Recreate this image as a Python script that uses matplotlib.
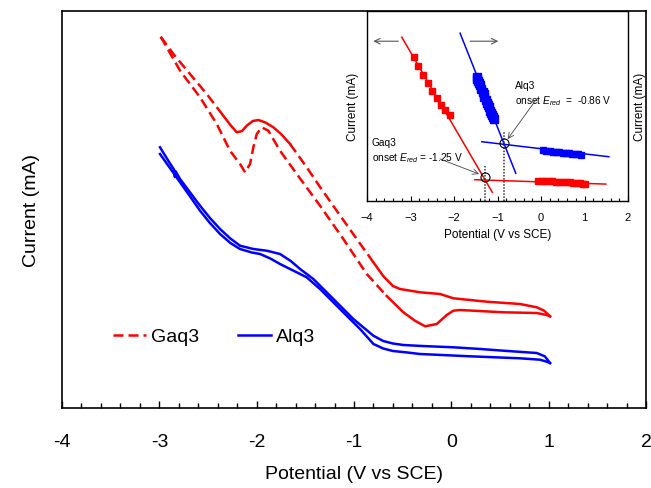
import numpy as np
import matplotlib
matplotlib.use("Agg")
import matplotlib.pyplot as plt
from matplotlib.lines import Line2D
from matplotlib.ticker import MultipleLocator

plt.rcParams['font.family'] = ['Liberation Sans', 'DejaVu Sans']
plt.rcParams['mathtext.fontset'] = 'custom'
plt.rcParams['mathtext.rm'] = 'Liberation Sans'
plt.rcParams['mathtext.it'] = 'Liberation Sans:italic'

# ---------------- main CV data (current in arbitrary mA units) ----------------
gaq3_up_x = [-2.986, -2.856, -2.685, -2.513, -2.343, -2.27, -2.205, -2.15, -2.102, -2.04, -1.983,
             -1.91, -1.829, -1.75, -1.657, -1.486, -1.349, -1.212, -0.972, -0.801, -0.70, -0.60,
             -0.527, -0.322, -0.116, 0.021, 0.364, 0.706, 0.877, 0.95, 0.99, 1.014]
gaq3_up_y = [3.713, 3.54, 3.34, 3.14, 2.923, 2.83, 2.757, 2.77, 2.823, 2.87, 2.88,
             2.855, 2.807, 2.74, 2.64, 2.407, 2.21, 2.02, 1.69, 1.457, 1.32, 1.22,
             1.19, 1.157, 1.14, 1.097, 1.063, 1.04, 1.007, 0.975, 0.94, 0.917]

gaq3_lo_x = [-2.986, -2.787, -2.582, -2.41, -2.274, -2.171, -2.119, -2.068, -2.034, -1.999, -1.948,
             -1.880, -1.760, -1.588, -1.349, -1.110, -0.869, -0.664, -0.493, -0.374, -0.27, -0.15,
             -0.047, 0.021, 0.09, 0.534, 0.877, 0.98, 1.014]
gaq3_lo_y = [3.713, 3.373, 3.107, 2.84, 2.573, 2.44, 2.357, 2.44, 2.607, 2.74, 2.807,
             2.773, 2.573, 2.34, 2.023, 1.69, 1.34, 1.12, 0.957, 0.873, 0.817, 0.84,
             0.93, 0.973, 0.98, 0.957, 0.95, 0.93, 0.917]

alq3_up_x = [-2.993, -2.90, -2.85, -2.84, -2.835, -2.787, -2.68, -2.582, -2.48, -2.376, -2.273,
             -2.171, -2.034, -1.897, -1.760, -1.65, -1.554, -1.418, -1.212, -1.007, -0.801, -0.70,
             -0.60, -0.493, -0.30, 0.021, 0.30, 0.534, 0.877, 0.96, 1.014]
alq3_up_y = [2.607, 2.46, 2.385, 2.31, 2.37, 2.29, 2.15, 2.023, 1.90, 1.79, 1.697,
             1.623, 1.59, 1.573, 1.54, 1.47, 1.39, 1.29, 1.09, 0.89, 0.723, 0.67,
             0.645, 0.63, 0.62, 0.607, 0.59, 0.573, 0.55, 0.517, 0.45]

alq3_lo_x = [-2.993, -2.787, -2.68, -2.582, -2.48, -2.376, -2.27, -2.171, -2.05, -1.965, -1.860,
             -1.760, -1.554, -1.486, -1.349, -1.144, -0.938, -0.80, -0.70, -0.60, -0.45, -0.322,
             0.192, 0.706, 0.911, 0.98, 1.014]
alq3_lo_y = [2.54, 2.257, 2.11, 1.973, 1.85, 1.74, 1.65, 1.59, 1.555, 1.54, 1.495,
             1.44, 1.34, 1.307, 1.19, 0.99, 0.79, 0.64, 0.595, 0.57, 0.555, 0.54,
             0.517, 0.497, 0.483, 0.463, 0.45]

labels = ["Gaq3", "Alq3"]
xticks_main = [-4, -3, -2, -1, 0, 1, 2]

# ---------------- inset (onset determination) data ----------------
gaq3_fit1_x = [-3.2, -1.12]
gaq3_fit1_y = [8.62, 0.46]
gaq3_fit2_x = [-1.52, 1.49]
gaq3_fit2_y = [1.12, 0.89]
gaq3_pts1_x = [-2.913, -2.821, -2.706, -2.605, -2.499, -2.398, -2.299, -2.207, -2.092]
gaq3_pts1_y = [7.56, 7.12, 6.65, 6.19, 5.77, 5.41, 5.07, 4.79, 4.54]
gaq3_pts2_x = [-0.06, 0.02, 0.10, 0.18, 0.26, 0.34, 0.42, 0.50, 0.58, 0.66, 0.74, 0.82, 0.90, 0.96, 1.01]
gaq3_pts2_y = [1.07, 1.06, 1.05, 1.04, 1.03, 1.02, 1.01, 1.00, 0.99, 0.98, 0.96, 0.95, 0.93, 0.91, 0.89]

alq3_fit1_x = [-1.86, -0.58]
alq3_fit1_y = [8.83, 1.46]
alq3_fit2_x = [-1.36, 1.56]
alq3_fit2_y = [3.12, 2.33]
alq3_pts1_x = [-1.48, -1.46, -1.44, -1.42, -1.40, -1.37, -1.34, -1.32, -1.30, -1.27, -1.24, -1.22,
               -1.20, -1.17, -1.15, -1.13, -1.10, -1.07]
alq3_pts1_y = [6.51, 6.40, 6.30, 6.19, 6.08, 5.90, 5.72, 5.61, 5.50, 5.33, 5.15, 5.04,
               4.93, 4.76, 4.65, 4.55, 4.44, 4.32]
alq3_pts2_x = [0.05, 0.12, 0.20, 0.28, 0.35, 0.42, 0.50, 0.58, 0.65, 0.72, 0.80, 0.86, 0.92]
alq3_pts2_y = [2.66, 2.64, 2.62, 2.60, 2.59, 2.57, 2.55, 2.53, 2.52, 2.50, 2.48, 2.46, 2.44]

onset_x = [-1.29, -0.85]      # Gaq3, Alq3 (drawn positions)
onset_y = [1.25, 3.04]
onset_top = [1.86, 3.70]
onset_vals = [-1.25, -0.86]

RED = '#ff0000'
BLUE = '#0000ff'

fig = plt.figure(figsize=(6.51, 4.89), dpi=100)
ax = fig.add_axes([62/651, 1-409/489, 584/651, 397/489])


def seg(xs, ys, lo, hi, **kw):
    x = np.asarray(xs); y = np.asarray(ys)
    m = (x >= lo) & (x <= hi)
    ax.plot(x[m], y[m], **kw)

dash = (0, (4, 2))
lw = 1.8
seg(gaq3_up_x, gaq3_up_y, -3.1, -2.343, color=RED, lw=lw, ls=dash)
seg(gaq3_up_x, gaq3_up_y, -2.343, -1.657, color=RED, lw=lw, ls='-')
seg(gaq3_up_x, gaq3_up_y, -1.657, -0.801, color=RED, lw=lw, ls=dash)
seg(gaq3_up_x, gaq3_up_y, -0.801, 1.1, color=RED, lw=lw, ls='-')
seg(gaq3_lo_x, gaq3_lo_y, -3.1, -0.664, color=RED, lw=lw, ls=dash)
seg(gaq3_lo_x, gaq3_lo_y, -0.664, 1.1, color=RED, lw=lw, ls='-')
ax.plot(alq3_up_x, alq3_up_y, color=BLUE, lw=lw)
ax.plot(alq3_lo_x, alq3_lo_y, color=BLUE, lw=lw)

ax.set_xlim(-4, 2)
ax.set_ylim(0, 3.97)
ax.set_yticks([])
ax.set_xticks(xticks_main)
ax.set_xticklabels([str(t) for t in xticks_main])
ax.xaxis.set_minor_locator(MultipleLocator(0.2))
ax.tick_params(axis='x', which='major', direction='in', length=5, width=1, pad=18, labelsize=14, top=False)
ax.tick_params(axis='x', which='minor', direction='in', length=3.5, width=1, top=False)
for s in ax.spines.values():
    s.set_linewidth(1.2)
ax.set_xlabel('Potential (V vs SCE)', fontsize=14, labelpad=11)
ax.set_ylabel('Current (mA)', fontsize=14, labelpad=16)

handles = [Line2D([], [], color=RED, lw=lw, ls=dash), Line2D([], [], color=BLUE, lw=lw)]
ax.legend(handles, labels, loc='center left', bbox_to_anchor=(0.057, 0.18), ncol=2, frameon=False,
          fontsize=14, handlelength=1.7, handletextpad=0.25, columnspacing=2.0)

# ---------------- inset ----------------
ai = fig.add_axes([367/651, 1-202/489, 261/651, 190/489])
ai.set_xlim(-4, 2)
ai.set_ylim(0, 10)
ai.set_yticks([])
ai.xaxis.set_major_locator(MultipleLocator(1))
ai.xaxis.set_minor_locator(MultipleLocator(0.2))
ai.tick_params(axis='x', which='major', direction='in', length=3.5, width=0.8, pad=8, labelsize=8)
ai.tick_params(axis='x', which='minor', direction='in', length=2.5, width=0.8)
for s in ai.spines.values():
    s.set_linewidth(1.0)
ai.set_xlabel('Potential (V vs SCE)', fontsize=8.5, labelpad=4)
ai.set_ylabel('Current (mA)', fontsize=8.5, labelpad=6)
ai.text(1.022, 0.5, 'Current (mA)', transform=ai.transAxes, rotation=90, fontsize=8.5,
        ha='left', va='center')

ilw = 1.1
ai.plot(gaq3_fit1_x, gaq3_fit1_y, color=RED, lw=ilw)
ai.plot(gaq3_fit2_x, gaq3_fit2_y, color=RED, lw=ilw)
ai.plot(alq3_fit1_x, alq3_fit1_y, color=BLUE, lw=ilw)
ai.plot(alq3_fit2_x, alq3_fit2_y, color=BLUE, lw=ilw)
ai.plot(gaq3_pts1_x, gaq3_pts1_y, 's', color=RED, ms=4, ls='none')
ai.plot(gaq3_pts2_x, gaq3_pts2_y, 's', color=RED, ms=4.5, ls='none')
ai.plot(alq3_pts1_x, alq3_pts1_y, 's', color=BLUE, ms=5.5, ls='none')
ai.plot(alq3_pts2_x, alq3_pts2_y, 's', color=BLUE, ms=5, ls='none')

for xo, yo, yt in zip(onset_x, onset_y, onset_top):
    ai.plot([xo, xo], [0, yt], color='#333333', lw=1.1, ls=(0, (1, 1)))
    ai.plot([xo], [yo], 'o', mfc='none', mec='black', mew=0.8, ms=6.5)

ai.annotate('', xy=(-3.855, 8.41), xytext=(-3.28, 8.41),
            arrowprops=dict(arrowstyle='->', color='#555555', lw=0.8, shrinkA=0, shrinkB=0))
ai.annotate('', xy=(-0.982, 8.41), xytext=(-1.632, 8.41),
            arrowprops=dict(arrowstyle='->', color='#555555', lw=0.8, shrinkA=0, shrinkB=0))

ai.text(-0.60, 6.35, 'Alq3\nonset $E_{red}$  =  %.2f V' % onset_vals[1], fontsize=7.3, va='top', ha='left',
        linespacing=1.3)
ai.text(-3.89, 3.35, 'Gaq3\nonset $E_{red}$ = %.2f V' % onset_vals[0], fontsize=7.3, va='top', ha='left',
        linespacing=1.3)
ai.annotate('', xy=(-0.766, 3.26), xytext=(-0.10, 5.37),
            arrowprops=dict(arrowstyle='->', color='#444444', lw=0.6, shrinkA=0, shrinkB=0))
ai.annotate('', xy=(-1.425, 1.42), xytext=(-2.32, 2.21),
            arrowprops=dict(arrowstyle='->', color='#444444', lw=0.6, shrinkA=0, shrinkB=0))

fig.savefig('out.png', dpi=100)
